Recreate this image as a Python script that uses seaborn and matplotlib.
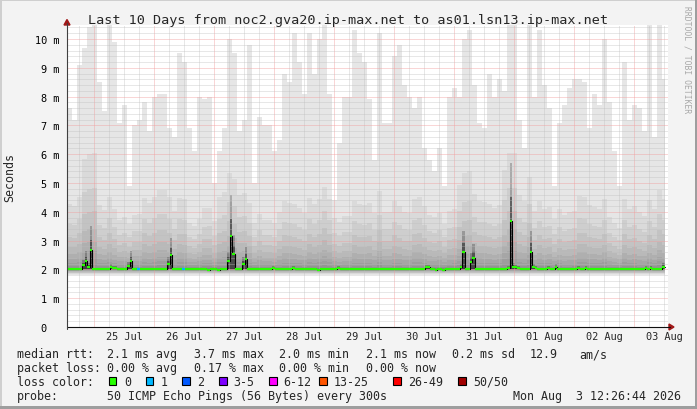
import numpy as np
import pandas as pd
import matplotlib
matplotlib.use("Agg")
import matplotlib.pyplot as plt
import matplotlib.dates as mdates
from matplotlib.ticker import MultipleLocator
from matplotlib.patches import Rectangle, Polygon
import seaborn as sns

TITLE = "Last 10 Days from noc2.gva20.ip-max.net to as01.lsn13.ip-max.net"
START = "2026-07-24 13:04"

# median rtt, one value per hour (ms), one row per 24 h
MEDIAN_MS = [
    2.00, 2.00, 2.00, 2.00, 2.00, 2.03, 2.15, 2.29, 2.10, 2.68, 2.00, 2.00, 2.00, 2.00, 2.00, 2.00, 2.00, 2.08, 2.05, 2.05, 2.00, 2.00, 2.00, 2.00,
    2.12, 2.29, 2.00, 2.00, 2.00, 2.00, 2.00, 2.02, 2.00, 2.00, 2.00, 2.00, 2.00, 2.00, 2.00, 2.00, 2.20, 2.50, 2.00, 2.00, 2.00, 2.00, 2.00, 2.00,
    2.00, 2.00, 2.00, 2.00, 2.00, 2.00, 2.00, 2.00, 1.98, 2.00, 2.00, 2.00, 1.98, 2.00, 2.00, 2.00, 2.28, 3.17, 2.55, 2.00, 2.00, 2.03, 2.20, 2.35,
    2.00, 2.00, 2.00, 2.00, 2.00, 2.00, 2.00, 2.00, 2.00, 2.00, 2.05, 2.00, 2.00, 2.00, 2.00, 2.00, 2.00, 2.00, 2.05, 2.00, 2.00, 2.00, 2.00, 2.00,
    2.00, 2.00, 2.00, 2.00, 1.98, 2.00, 2.00, 2.00, 2.00, 2.00, 2.00, 2.00, 2.05, 2.00, 2.00, 2.00, 2.00, 2.00, 2.00, 2.00, 2.00, 2.00, 2.00, 2.00,
    2.00, 2.00, 2.00, 2.00, 2.00, 2.00, 2.00, 2.00, 2.00, 2.00, 2.00, 2.00, 2.00, 2.00, 2.00, 2.00, 2.00, 2.00, 2.00, 2.00, 2.00, 2.00, 2.02, 2.07,
    2.07, 2.00, 2.00, 1.98, 2.00, 2.00, 1.98, 2.00, 2.00, 2.00, 2.00, 2.00, 2.00, 2.08, 2.60, 2.00, 2.00, 2.26, 2.40, 2.02, 2.00, 2.00, 2.00, 2.00,
    2.00, 2.00, 2.00, 2.00, 2.00, 2.00, 2.03, 2.03, 2.06, 3.68, 2.10, 2.07, 2.05, 2.02, 2.02, 2.02, 2.02, 2.61, 2.08, 2.05, 2.02, 2.02, 2.02, 2.00,
    2.05, 2.02, 2.02, 2.08, 2.03, 2.00, 2.00, 2.00, 2.00, 2.00, 2.00, 2.00, 2.05, 2.00, 2.00, 2.05, 2.00, 2.00, 2.00, 2.00, 2.00, 2.00, 2.00, 2.00,
    2.00, 2.00, 2.00, 2.00, 2.00, 2.00, 2.00, 2.00, 2.00, 2.00, 2.00, 2.00, 2.00, 2.00, 2.00, 2.05, 2.00, 2.05, 2.00, 2.00, 2.00, 2.00, 2.10, 2.10,
]

# hours with lost pings (count out of 50)
LOSS_HOURS = [28, 46]
LOSS_PINGS = [1, 1]

# highest ping per 2 h (ms) - top of the light smoke
SMOKE_MAX = [
    7.6, 7.2, 9.1, 9.7, 10.4, 10.5, 8.5, 7.5, 10.5, 9.9,
    7.1, 7.7, 4.9, 7.0, 7.2, 7.8, 6.8, 8.0, 8.1, 8.1,
    6.9, 6.6, 9.5, 9.2, 6.9, 6.1, 8.0, 7.9, 8.0, 5.0,
    6.1, 6.9, 10.0, 9.5, 6.8, 7.2, 9.8, 5.0, 7.3, 7.0,
    7.0, 6.1, 6.5, 8.8, 8.5, 10.2, 9.2, 8.1, 10.2, 8.8,
    10.0, 10.5, 8.1, 4.4, 6.4, 8.0, 8.0, 10.3, 9.5, 9.2,
    7.9, 5.8, 10.2, 7.1, 7.1, 9.4, 9.8, 8.4, 8.0, 7.6,
    8.0, 6.2, 5.8, 5.4, 6.2, 4.9, 8.0, 8.3, 8.0, 10.0,
    10.3, 8.4, 7.1, 6.9, 8.8, 8.0, 8.6, 8.2, 10.5, 10.5,
    7.2, 6.2, 10.5, 8.0, 10.3, 8.4, 7.6, 4.9, 7.1, 7.7,
    8.3, 8.6, 8.6, 8.5, 6.9, 8.1, 7.7, 10.0, 7.8, 6.1,
    4.9, 9.2, 7.2, 7.7, 7.6, 6.8, 10.5, 6.6, 10.5, 8.6,
]

# top of the denser smoke per 6 h (ms)
SMOKE_MID = [
    4.4, 5.5, 4.2, 3.9, 4.1, 4.6, 4.8, 4.3, 3.8, 4.2,
    5.0, 4.9, 4.1, 3.9, 4.3, 4.0, 4.2, 4.5, 3.9, 4.1,
    4.4, 4.2, 4.0, 4.6, 4.3, 4.1, 5.0, 4.6, 4.2, 5.5,
    4.8, 4.1, 4.3, 4.0, 4.5, 4.2, 3.9, 4.3, 4.1, 4.4,
]
SMOKE_MIN = 1.82

LOSS_LABELS = ["0", "1", "2", "3-5", "6-12", "13-25", "26-49", "50/50"]
LOSS_COLORS = ["#26ff00", "#00b8ff", "#0059ff", "#7e00ff", "#ff00ff", "#ff5500", "#ff0000", "#a10000"]

W, H = 697, 410


def fx(x):
    return x / W


def fy(y):
    return 1 - y / H


sns.set_theme(style="white")
plt.rcParams["font.family"] = ["DejaVu Sans Mono"]

fig = plt.figure(figsize=(W / 100, H / 100), dpi=100)
fig.patch.set_facecolor("#f3f3f3")
ax = fig.add_axes([fx(67), fy(328), 601 / W, 302 / H])
ax.set_facecolor("white")

t0 = pd.Timestamp(START)
hours = np.arange(len(MEDIAN_MS) + 1)
t_hour = mdates.date2num((t0 + pd.to_timedelta(hours, unit="h")).to_pydatetime())
t_hour[-1] = mdates.date2num((t0 + pd.Timedelta(hours=239.2)).to_pydatetime())

median = np.array(MEDIAN_MS)
top = np.repeat(SMOKE_MAX, 2)
# denser smoke reaches higher in columns whose spread is larger
mid = np.minimum(2 + (np.repeat(SMOKE_MID, 6) - 2) * (0.55 + 0.6 * (top - 2) / 8.5), top)


def stepfill(lo, hi, **kw):
    lo = np.broadcast_to(np.asarray(lo, dtype=float), hi.shape)
    ax.fill_between(t_hour, np.append(lo, lo[-1]), np.append(hi, hi[-1]),
                    step="post", linewidth=0, zorder=1, **kw)


# smoke
stepfill(SMOKE_MIN, top, color="#e6e6e6")
fracs = [1.0, 0.7, 0.5, 0.35, 0.24, 0.16, 0.1, 0.05]
lows = [1.85, 1.87, 1.89, 1.91, 1.93, 1.95, 1.965, 1.975]
for f, lo in zip(fracs, lows):
    stepfill(lo, 2 + f * (mid - 2), color="black", alpha=0.05)
stepfill(1.975, np.full_like(top, 2.06), color="#858585")
dev = np.clip(median - 2, 0, None)
stepfill(2.0, np.where(dev > 0.03, median + 1.2 * dev, 2.0), color="black", alpha=0.22)
stepfill(2.0, np.where(dev > 0.03, median + 0.5 * dev, 2.0), color="black", alpha=0.4)

# median: black steps + loss coloured segments
df = pd.DataFrame({"t": t_hour, "rtt": np.append(median, median[-1])})
sns.lineplot(data=df, x="t", y="rtt", drawstyle="steps-post", color="black",
             linewidth=0.8, ax=ax, zorder=4)
seg_colors = [LOSS_COLORS[0]] * len(median)
for h, n in zip(LOSS_HOURS, LOSS_PINGS):
    seg_colors[h] = LOSS_COLORS[1 if n == 1 else 2]
ax.hlines(median, t_hour[:-1], t_hour[1:], colors=seg_colors, linewidth=1.6, zorder=5)

# axes
ax.set_ylim(0, 302 / 28.8)
ax.set_xlim(t_hour[0], t_hour[0] + 240.4 / 24)
ax.xaxis_date()
ax.xaxis.set_major_locator(mdates.DayLocator())
ax.xaxis.set_minor_locator(mdates.HourLocator(byhour=[6, 12, 18]))
ax.xaxis.set_major_formatter(plt.NullFormatter())
ax.yaxis.set_major_locator(MultipleLocator(1))
ax.yaxis.set_minor_locator(MultipleLocator(0.2))
ax.set_yticks(range(11), [f"{v} m" if v else "0  " for v in range(11)])
ax.set_axisbelow(False)
ax.grid(which="major", color="#f29a9a", linestyle=(0, (1, 1)), linewidth=0.72, alpha=0.8)
ax.grid(which="minor", color="#bdbdbd", linestyle=(0, (1, 1)), linewidth=0.72, alpha=0.7)
ax.tick_params(axis="x", which="both", length=0)
ax.tick_params(axis="y", which="major", length=2.2, width=0.7, color="#f29a9a",
               pad=3.0, labelsize=7.4, labelcolor="black")
ax.tick_params(axis="y", which="minor", length=2.2, width=0.7, color="#c8c8c8")
ax.set_xlabel("")
ax.set_ylabel("")
for s in ax.spines.values():
    s.set_visible(False)

days = pd.date_range("2026-07-25 12:00", periods=10, freq="D")
for d in days:
    ax.text(mdates.date2num(d.to_pydatetime()), -12 / 302, d.strftime("%d %b"),
            transform=ax.get_xaxis_transform(), ha="center", va="baseline",
            fontsize=7.4)

# axis lines and arrows
fig.add_artist(plt.Line2D([fx(67), fx(670)], [fy(328), fy(328)], color="#101010", lw=0.8))
fig.add_artist(plt.Line2D([fx(67), fx(67)], [fy(330), fy(24)], color="#404040", lw=0.8))
fig.add_artist(Polygon([(fx(669), fy(325)), (fx(674), fy(328)), (fx(669), fy(331))],
                       closed=True, color="#a01818"))
fig.add_artist(Polygon([(fx(64), fy(26)), (fx(67), fy(20.5)), (fx(70), fy(26))],
                       closed=True, color="#a01818"))

# frame shading
fig.add_artist(Rectangle((0, fy(2)), 1, 2 / H, color="#cfcfcf", lw=0))
fig.add_artist(Rectangle((0, 0), 2 / W, 1, color="#cfcfcf", lw=0))
fig.add_artist(Rectangle((0, 0), 1, 3 / H, color="#9e9e9e", lw=0))
fig.add_artist(Rectangle((fx(695), 0), 2 / W, 1, color="#9e9e9e", lw=0))

# texts
fig.text(fx(348.5), fy(24), TITLE, ha="center", va="baseline", fontsize=9.7)
fig.text(fx(10), fy(178), "Seconds", rotation=90, ha="center", va="center", fontsize=8.4)
fig.text(fx(687.5), fy(60), "RRDTOOL / TOBI OETIKER", rotation=270, ha="center",
         va="center", fontsize=5.8, color="#a8a8a8")

LS = 8.4
rows = [
    (358.5, [(16.7, "median rtt:"), (107.3, "2.1 ms avg"), (194, "3.7 ms max"),
             (279.3, "2.0 ms min"), (365.7, "2.1 ms now"), (451.7, "0.2 ms sd"),
             (530, "12.9"), (579.3, "am/s")]),
    (372.3, [(16.7, "packet loss:"), (107.3, "0.00 % avg"), (194, "0.17 % max"),
             (279.3, "0.00 % min"), (365.7, "0.00 % now")]),
    (386.0, [(16.7, "loss color:")]),
    (399.7, [(16.7, "probe:"), (107.3, "50 ICMP Echo Pings (56 Bytes) every 300s"),
             (513.3, "Mon Aug  3 12:26:44 2026")]),
]
for y, items in rows:
    for x, s in items:
        fig.text(fx(x), fy(y), s, ha="left", va="baseline", fontsize=LS)

box_x = [108.7, 145.7, 182.3, 219, 269.3, 319.3, 393.3, 458.3]
lab_x = [124, 160.7, 197.3, 233.3, 283.3, 334, 408.3, 473.3]
for bx, lx, c, lab in zip(box_x, lab_x, LOSS_COLORS, LOSS_LABELS):
    fig.add_artist(Rectangle((fx(bx), fy(386)), 7.5 / W, 7.7 / H, facecolor=c,
                             edgecolor="black", lw=0.8))
    fig.text(fx(lx), fy(386.0), lab, ha="left", va="baseline", fontsize=LS)

fig.savefig("out.png", dpi=100, facecolor=fig.get_facecolor())
